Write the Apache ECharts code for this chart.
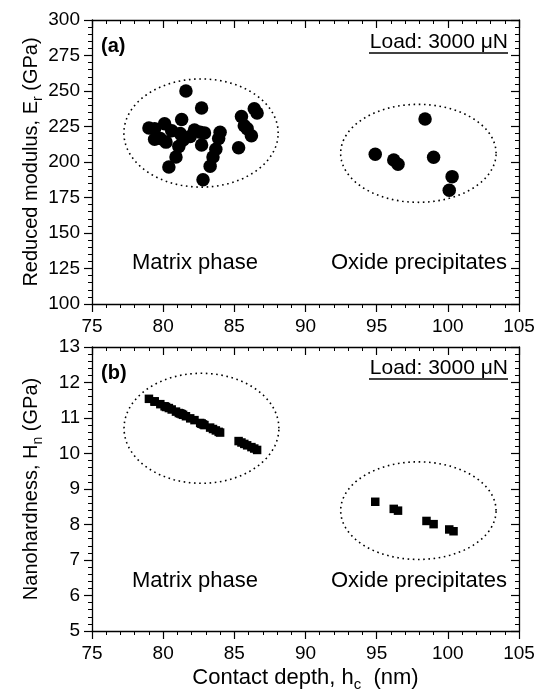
<!DOCTYPE html>
<html>
<head>
<meta charset="utf-8">
<script src="https://cdn.jsdelivr.net/npm/echarts@6/dist/echarts.min.js"></script>
<style>
html,body{margin:0;padding:0;background:#fff;}
#c{width:537px;height:694px;}
</style>
</head>
<body>
<div id="c"></div>
<script>
// ---- data ----
const xTicks = [75, 80, 85, 90, 95, 100, 105];
const erTicks = [100, 125, 150, 175, 200, 225, 250, 275, 300];
const hnTicks = [5, 6, 7, 8, 9, 10, 11, 12, 13];

const matrixDepth = [79.0, 79.4, 79.4, 79.8, 80.1, 80.2, 80.6, 80.4, 80.9, 81.1, 81.2, 81.3, 81.4, 81.6, 81.9, 82.2, 82.6, 82.7, 82.7, 82.9, 82.8, 83.3, 83.5, 83.7, 83.9, 84.0, 85.3, 85.5, 85.7, 85.9, 86.2, 86.4, 86.6];
const matrixModulus = [224, 223.5, 216, 216.5, 227, 214, 222, 196.5, 203.5, 211, 220, 230, 215.5, 250, 218, 222.5, 221, 238, 212, 220.5, 187.5, 197, 203.5, 209, 216.5, 221, 210, 232, 225.5, 223.5, 218.5, 237.5, 234.5];
const matrixHardness = [11.54, 11.47, 11.46, 11.39, 11.33, 11.31, 11.24, 11.28, 11.18, 11.14, 11.13, 11.11, 11.09, 11.05, 10.99, 10.94, 10.86, 10.84, 10.84, 10.80, 10.82, 10.73, 10.69, 10.65, 10.61, 10.59, 10.35, 10.31, 10.27, 10.23, 10.18, 10.14, 10.10];

const oxideDepth = [94.9, 96.2, 96.5, 98.4, 99.0, 100.3, 100.1];
const oxideModulus = [205.4, 201.4, 198.4, 230.3, 203.3, 189.7, 180.1];
const oxideDepthH = [94.9, 96.2, 96.5, 98.5, 99.0, 100.1, 100.4];
const oxideHardness = [8.64, 8.44, 8.39, 8.10, 8.01, 7.86, 7.81];

// ellipses: [center depth, center value, radius depth, radius value]
const ellipsesA = [[82.66, 220.4, 5.42, 38.1], [97.93, 206.1, 5.46, 34.5]];
const ellipsesB = [[82.69, 10.71, 5.44, 1.55], [97.93, 8.39, 5.46, 1.375]];

const groupLabels = ['Matrix phase', 'Oxide precipitates'];
const loadLabel = 'Load: 3000 μN';

// ---- chart ----
const FONT = '"Liberation Sans", Arial, Helvetica, sans-serif';
const G = [
  {left: 92, top: 20, width: 427, height: 284, containLabel: false, outerBoundsMode: 'none'},
  {left: 92, top: 347, width: 427, height: 284, containLabel: false, outerBoundsMode: 'none'}
];

function zip(a, b) { return a.map((v, i) => [v, b[i]]); }

const RICH_Y = {
  n: {fontFamily: FONT, fontSize: 20, color: '#000', height: 20, lineHeight: 20, verticalAlign: 'top'},
  s: {fontFamily: FONT, fontSize: 14, color: '#000', height: 34, lineHeight: 34, verticalAlign: 'top'}
};
const RICH_X = {
  n: {fontFamily: FONT, fontSize: 22, color: '#000', height: 22, lineHeight: 22, verticalAlign: 'top'},
  s: {fontFamily: FONT, fontSize: 15, color: '#000', height: 36, lineHeight: 36, verticalAlign: 'top'}
};

function xAxisPair(gi, withName) {
  const base = {
    type: 'value', gridIndex: gi, min: xTicks[0], max: xTicks[xTicks.length - 1], interval: xTicks[1] - xTicks[0],
    splitLine: {show: false},
    axisLine: {show: true, onZero: false, lineStyle: {color: '#000', width: 1.3}},
    minorTick: {show: true, splitNumber: 5, length: 4, lineStyle: {color: '#000', width: 1}},
  };
  const bottom = Object.assign({}, base, {
    position: 'bottom',
    axisTick: {show: true, inside: false, length: 8, lineStyle: {color: '#000', width: 1.2}},
    axisLabel: {show: true, color: '#000', fontFamily: FONT, fontSize: 19, margin: 13},
  });
  if (withName) {
    Object.assign(bottom, {
      name: '{n|Contact depth, h}{s|c}{n|  (nm)}',
      nameLocation: 'middle', nameGap: 36, nameMoveOverlap: false,
      nameTextStyle: {rich: RICH_X}
    });
  }
  const top = Object.assign({}, base, {
    position: 'top',
    axisTick: {show: true, inside: true, length: 8, lineStyle: {color: '#000', width: 1.2}},
    axisLabel: {show: false},
  });
  return [bottom, top];
}

function yAxisPair(gi, ticks, name, sub) {
  const base = {
    type: 'value', gridIndex: gi, min: ticks[0], max: ticks[ticks.length - 1], interval: ticks[1] - ticks[0],
    splitLine: {show: false},
    axisLine: {show: true, onZero: false, lineStyle: {color: '#000', width: 1.3}},
    minorTick: {show: true, splitNumber: 5, length: 4, lineStyle: {color: '#000', width: 1}},
  };
  const left = Object.assign({}, base, {
    position: 'left',
    axisTick: {show: true, inside: false, length: 8, lineStyle: {color: '#000', width: 1.2}},
    axisLabel: {show: true, color: '#000', fontFamily: FONT, fontSize: 19, margin: 12},
    name: '{n|' + name + '}{s|' + sub + '}{n| (GPa)}',
    nameLocation: 'middle', nameGap: 37, nameMoveOverlap: false,
    nameTextStyle: {rich: RICH_Y}
  });
  const right = Object.assign({}, base, {
    position: 'right',
    axisTick: {show: true, inside: true, length: 8, lineStyle: {color: '#000', width: 1.2}},
    axisLabel: {show: false},
  });
  return [left, right];
}

function ellipseRender(params, api) {
  const cx = api.value(0), cy = api.value(1), rx = api.value(2), ry = api.value(3);
  const pts = [];
  const N = 120;
  for (let i = 0; i <= N; i++) {
    const t = (i / N) * Math.PI * 2;
    pts.push(api.coord([cx + rx * Math.cos(t), cy + ry * Math.sin(t)]));
  }
  return {
    type: 'polyline',
    shape: {points: pts},
    style: {fill: null, stroke: '#000', lineWidth: 1.6, lineDash: [1.6, 3.6]},
    silent: true
  };
}

const xs = xAxisPair(0, false).concat(xAxisPair(1, true));
const ys = yAxisPair(0, erTicks, 'Reduced modulus, E', 'r').concat(yAxisPair(1, hnTicks, 'Nanohardness, H', 'n'));

function txt(x, y, text, opts) {
  return {
    type: 'text', x: x, y: y, silent: true,
    style: Object.assign({text: text, fill: '#000', font: '22px ' + FONT, textAlign: 'center', textVerticalAlign: 'middle'}, opts || {})
  };
}

const graphic = [
  txt(101, 46, '(a)', {font: 'bold 20px ' + FONT, textAlign: 'left'}),
  txt(101, 373, '(b)', {font: 'bold 20px ' + FONT, textAlign: 'left'}),
  txt(508, 42, loadLabel, {font: '21px ' + FONT, textAlign: 'right'}),
  txt(508, 368, loadLabel, {font: '21px ' + FONT, textAlign: 'right'}),
  {type: 'line', silent: true, shape: {x1: 369, y1: 53, x2: 508, y2: 53}, style: {stroke: '#000', lineWidth: 1.6}},
  {type: 'line', silent: true, shape: {x1: 369, y1: 379, x2: 508, y2: 379}, style: {stroke: '#000', lineWidth: 1.6}},
  txt(195, 263, groupLabels[0]),
  txt(419, 263, groupLabels[1]),
  txt(195, 581, groupLabels[0]),
  txt(419, 581, groupLabels[1]),
];

const chart = echarts.init(document.getElementById('c'), null, {renderer: 'canvas'});
const mk = {color: '#000', opacity: 1};
chart.setOption({
  backgroundColor: '#fff',
  animation: false,
  grid: G,
  xAxis: xs,
  yAxis: ys,
  graphic: graphic,
  series: [
    {type: 'custom', xAxisIndex: 0, yAxisIndex: 0, renderItem: ellipseRender, data: ellipsesA, clip: false, z: 1},
    {type: 'custom', xAxisIndex: 2, yAxisIndex: 2, renderItem: ellipseRender, data: ellipsesB, clip: false, z: 1},
    {type: 'scatter', xAxisIndex: 0, yAxisIndex: 0, symbol: 'circle', symbolSize: 13.5, itemStyle: mk, data: zip(matrixDepth, matrixModulus), z: 3},
    {type: 'scatter', xAxisIndex: 0, yAxisIndex: 0, symbol: 'circle', symbolSize: 13.5, itemStyle: mk, data: zip(oxideDepth, oxideModulus), z: 3},
    {type: 'scatter', xAxisIndex: 2, yAxisIndex: 2, symbol: 'rect', symbolSize: 8.5, itemStyle: mk, data: zip(matrixDepth, matrixHardness), z: 3},
    {type: 'scatter', xAxisIndex: 2, yAxisIndex: 2, symbol: 'rect', symbolSize: 8.5, itemStyle: mk, data: zip(oxideDepthH, oxideHardness), z: 3},
  ]
});
</script>
</body>
</html>
